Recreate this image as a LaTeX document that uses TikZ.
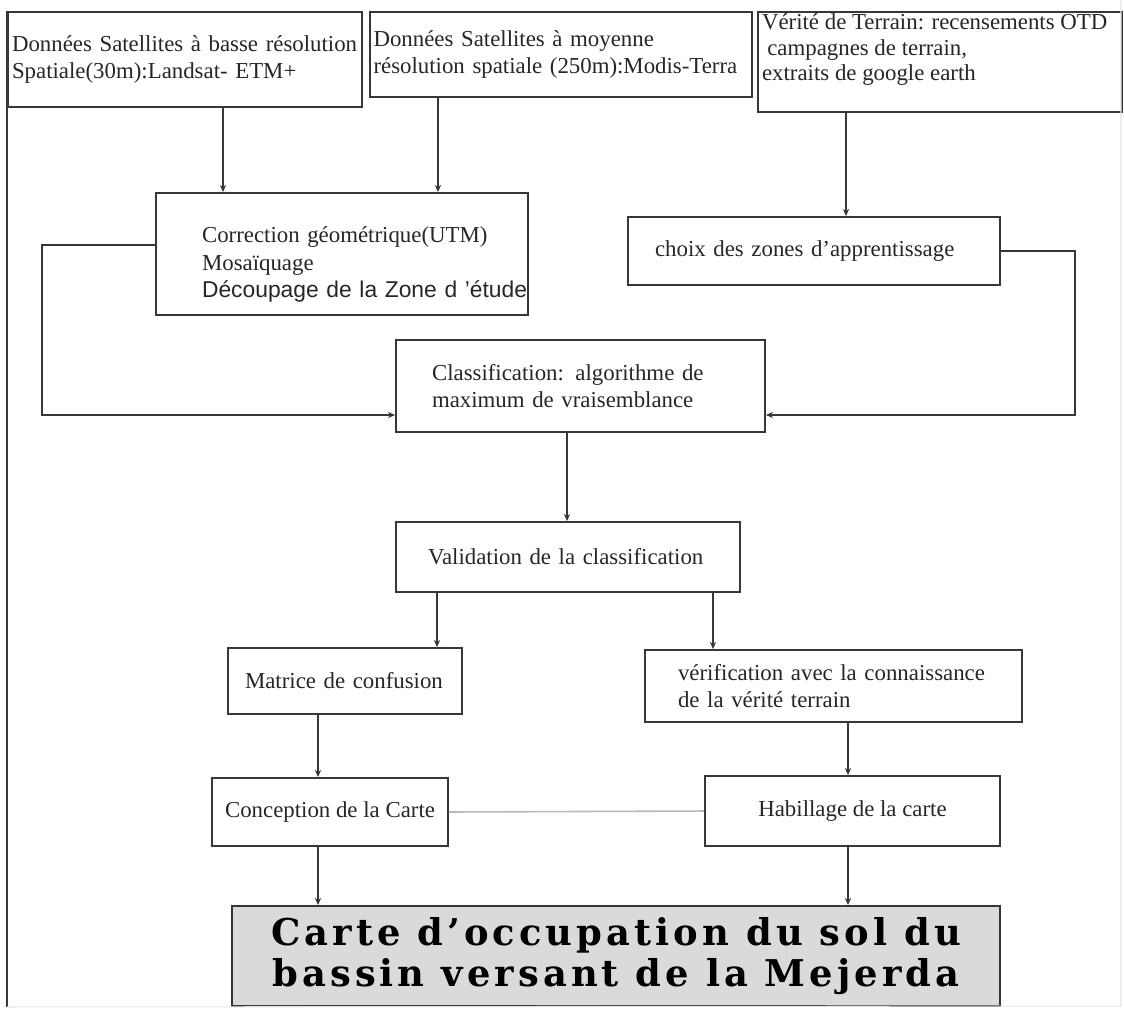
\documentclass[tikz,border=0pt]{standalone}
\usepackage{fontspec}
\setmainfont{Liberation Serif}
\setsansfont{Liberation Sans}
\newfontfamily\titlefont{DejaVu Serif}[LetterSpace=11]
\usetikzlibrary{positioning, arrows.meta, calc}

\definecolor{linegray}{RGB}{55,55,55}
\definecolor{boxgray}{RGB}{218,218,216}
\definecolor{thingray}{RGB}{185,185,185}

\begin{document}
\begin{tikzpicture}[
		x=0.02cm, y=-0.02cm,
		>=Stealth,
		block/.style={draw=linegray, rectangle, line width=1.1pt, align=left, inner sep=0pt, text=black!85, font=\fontsize{13}{15.5}\selectfont},
		arr/.style={->, line width=1pt, draw=linegray, >={Stealth[length=4pt, width=3.5pt]}},
		link/.style={line width=1pt, draw=linegray},
		]
		\useasboundingbox (0,0) rectangle (1124,1008);
		
		% 1. Satellite data
		\node[block, minimum width=7.08cm, minimum height=1.9cm, text width=6.92cm] (sat30) at (185,59.5) {Données Satellites à basse résolution\\Spatiale(30m):Landsat- ETM+};
		\node[block, minimum width=7.64cm, minimum height=1.7cm, text width=7.5cm] (sat250) at (561,54.5) {Données Satellites à moyenne\\résolution spatiale (250m):Modis-Terra};
		
		% 2. Field truth
		\node[block, minimum width=7.28cm, minimum height=2cm] (terrain) at (940,62) {\parbox[c][1.92cm][t]{7.12cm}{\fontsize{13}{14.5}\selectfont Vérité de Terrain: recensements OTD\\\hspace*{3pt}campagnes de terrain,\\extraits de google earth}};
		
		% 3. Preprocessing
		\node[block, minimum width=7.44cm, minimum height=2.44cm, text width=5.6cm] (pretrait) at (342,254) {\makebox[5.6cm][l]{\rule{0pt}{21pt}Correction géométrique(UTM)}\\Mosaïquage\\\makebox[5.6cm][l]{\sffamily Découpage de la Zone d ’étude}};
		
		% 4. Training zones
		\node[block, minimum width=7.44cm, minimum height=1.36cm, text width=6.36cm] (zones) at (814,251) {choix des zones d’apprentissage};
		
		% 5. Classification
		\node[block, minimum width=7.38cm, minimum height=1.84cm, text width=5.94cm] (classif) at (580.5,386) {Classification: algorithme de\\maximum de vraisemblance};
		
		% 6. Validation
		\node[block, minimum width=6.88cm, minimum height=1.4cm, text width=5.6cm] (valid) at (568,557) {Validation de la classification};
		\node[block, minimum width=4.68cm, minimum height=1.32cm, text width=4cm] (confus) at (345,681) {Matrice de confusion};
		\node[block, minimum width=7.54cm, minimum height=1.44cm, text width=6.22cm] (verif) at (833.5,686) {vérification avec la connaissance\\de la vérité terrain};
		
		% 7. Map
		\node[block, align=center, minimum width=4.72cm, minimum height=1.36cm] (concep) at (330,812) {Conception de la Carte};
		\node[block, align=center, minimum width=5.9cm, minimum height=1.4cm] (habil) at (852.5,811) {Habillage de la carte};
		\node[block, align=center, fill=boxgray, minimum width=15.36cm, minimum height=2cm, font=\titlefont\bfseries\fontsize{21}{23.5}\selectfont, text=black] (carte) at (616,956) {Carte d’occupation du sol du\\bassin versant de la Mejerda};
		
		% Frame
		\draw[link] (sat30.north west) -- (sat30.north west |- carte.south);
		\draw[thingray!40, line width=0.6pt] (1121,0) -- (1121,1006) -- (sat30.west |- carte.south);
		
		% Arrows for the main flow
		\coordinate (a1) at (223,0);
		\coordinate (a2) at (438,0);
		\coordinate (a3) at (846,0);
		\coordinate (a4) at (567,0);
		\coordinate (a5) at (437,0);
		\coordinate (a6) at (713,0);
		\coordinate (a7) at (318,0);
		\coordinate (a8) at (848,0);
		\coordinate (lx) at (42,415);
		\coordinate (ly) at (0,245);
		\coordinate (rx) at (1075,415);
		\draw[arr] (sat30.south -| a1) -- (pretrait.north -| a1);
		\draw[arr] (sat250.south -| a2) -- (pretrait.north -| a2);
		\draw[arr] (terrain.south -| a3) -- (zones.north -| a3);
		\draw[arr] (pretrait.west |- ly) -| (lx) -- (classif.west |- lx);
		\draw[arr] (zones.east) -| (rx) -- (classif.east |- rx);
		\draw[arr] (classif.south -| a4) -- (valid.north -| a4);
		\draw[arr] (valid.south -| a5) -- (confus.north -| a5);
		\draw[arr] (valid.south -| a6) -- (verif.north -| a6);
		\draw[arr] (confus.south -| a7) -- (concep.north -| a7);
		\draw[arr] (verif.south -| a8) -- (habil.north -| a8);
		\draw[arr] (concep.south -| a7) -- (carte.north -| a7);
		\draw[arr] (habil.south -| a8) -- (carte.north -| a8);
		\draw[thingray, line width=0.9pt] (concep.east) -- (habil.west);
		
	\end{tikzpicture}
\end{document}
